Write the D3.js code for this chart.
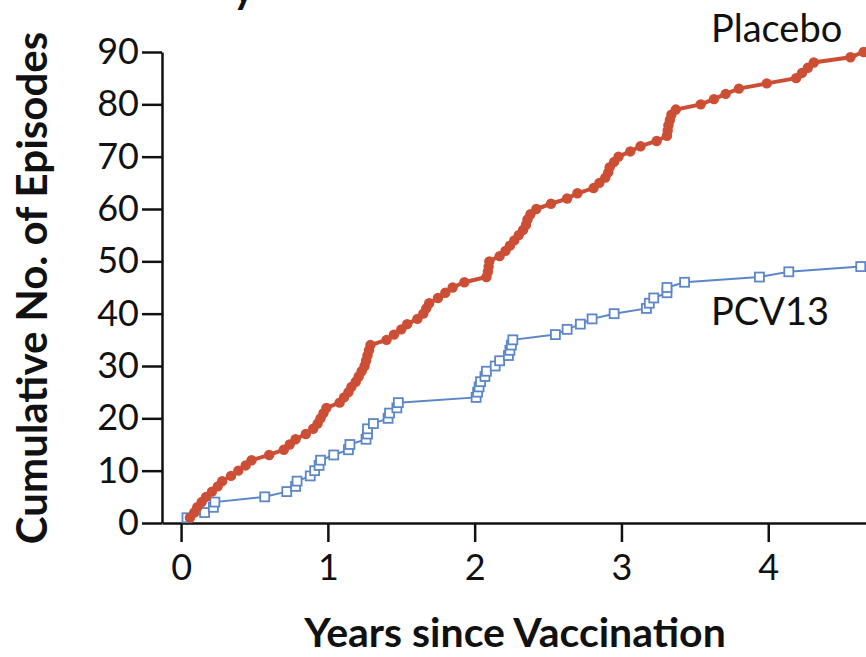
<!DOCTYPE html>
<html>
<head>
<meta charset="utf-8">
<script src="https://cdn.jsdelivr.net/npm/d3@7"></script>
<style>
  html, body { margin: 0; padding: 0; background: #fff; }
  svg { display: block; }
  text { font-family: Lato, "Open Sans", sans-serif; fill: #111; }
</style>
</head>
<body>
<svg id="chart" width="866" height="657"></svg>
<script>
// Years since vaccination for each cumulative episode (Placebo), count 1..90
const placeboYears = [
  0.06,0.09,0.11,0.14,0.17,0.21,0.25,0.28,0.34,0.39,
  0.44,0.48,0.60,0.70,0.74,0.78,0.85,0.90,0.93,0.95,
  0.97,0.99,1.08,1.11,1.14,1.16,1.19,1.21,1.23,1.25,
  1.26,1.27,1.28,1.29,1.40,1.45,1.50,1.54,1.61,1.65,
  1.67,1.69,1.75,1.80,1.85,1.93,2.08,2.09,2.095,2.10,
  2.17,2.21,2.24,2.27,2.30,2.33,2.35,2.36,2.38,2.42,
  2.52,2.63,2.70,2.81,2.85,2.89,2.91,2.92,2.95,2.98,
  3.06,3.13,3.24,3.31,3.315,3.32,3.33,3.34,3.37,3.54,
  3.63,3.71,3.80,3.99,4.19,4.23,4.27,4.31,4.56,4.65
];
// Years since vaccination for each cumulative episode (PCV13), count 1..49
const pcv13Years = [
  0.04,0.16,0.22,0.23,0.57,0.72,0.78,0.79,0.88,0.91,
  0.94,0.95,1.04,1.14,1.15,1.26,1.27,1.27,1.31,1.41,
  1.42,1.47,1.48,2.01,2.02,2.03,2.04,2.07,2.08,2.14,
  2.17,2.23,2.24,2.25,2.26,2.55,2.63,2.72,2.80,2.95,
  3.17,3.19,3.22,3.31,3.31,3.43,3.94,4.14,4.63
];
const xTicks = [0, 1, 2, 3, 4];
const yTicks = [0, 10, 20, 30, 40, 50, 60, 70, 80, 90];
const seriesLabels = ["Placebo", "PCV13"];
const xTitle = "Years since Vaccination";
const yTitle = "Cumulative No. of Episodes";
const panelTitle = "y";

const placebo = placeboYears.map((t, i) => ({ x: t, y: i + 1 }));
const pcv13 = pcv13Years.map((t, i) => ({ x: t, y: i + 1 }));

const svg = d3.select("#chart");
const red = "#cc4f35", blue = "#5b87c8";

const x = d3.scaleLinear().domain([-0.13, 4.7]).range([162, 871]);
const y = d3.scaleLinear().domain([0, 90]).range([523, 52]);

// partial panel title (cut off at top, as in the source figure)
svg.append("text").attr("x", 233).attr("y", 3)
  .attr("font-weight", 700).attr("font-size", 40).text(panelTitle);

// X axis
const xAxis = svg.append("g").attr("transform", "translate(0,523)")
  .call(d3.axisBottom(x).tickValues(xTicks).tickSize(19).tickSizeOuter(0).tickPadding(12).tickFormat(d3.format("d")));
xAxis.select(".domain").attr("stroke", "#111").attr("stroke-width", 2.5);
xAxis.selectAll(".tick line").attr("stroke", "#111").attr("stroke-width", 2.5);
xAxis.selectAll(".tick text").attr("font-size", 36).attr("fill", "#111")
  .style("font-family", "Lato, sans-serif");

// Y axis
const yAxis = svg.append("g").attr("transform", "translate(162,0)")
  .call(d3.axisLeft(y).tickValues(yTicks).tickSize(20).tickSizeOuter(0).tickPadding(3).tickFormat(d3.format("d")));
yAxis.select(".domain").attr("stroke", "#111").attr("stroke-width", 2.5);
yAxis.selectAll(".tick line").attr("stroke", "#111").attr("stroke-width", 2.5);
yAxis.selectAll(".tick text").attr("font-size", 36).attr("fill", "#111")
  .style("font-family", "Lato, sans-serif");

const line = d3.line().x(d => x(d.x)).y(d => y(d.y));

// PCV13 series
svg.append("path").datum(pcv13).attr("d", line)
  .attr("fill", "none").attr("stroke", blue).attr("stroke-width", 2);
// extend last value to right edge
svg.append("path").datum([pcv13[pcv13.length - 1], { x: 4.7, y: pcv13.length }]).attr("d", line)
  .attr("fill", "none").attr("stroke", blue).attr("stroke-width", 2);
svg.append("g").selectAll("rect").data(pcv13).join("rect")
  .attr("x", d => x(d.x) - 4.5).attr("y", d => y(d.y) - 4.5)
  .attr("width", 9).attr("height", 9)
  .attr("fill", "#fff").attr("stroke", blue).attr("stroke-width", 1.8);

// Placebo series
svg.append("path").datum(placebo).attr("d", line)
  .attr("fill", "none").attr("stroke", red).attr("stroke-width", 4);
svg.append("g").selectAll("circle").data(placebo).join("circle")
  .attr("cx", d => x(d.x)).attr("cy", d => y(d.y)).attr("r", 5.2)
  .attr("fill", red);

// Series labels
svg.append("text").attr("x", 711).attr("y", 42).attr("font-size", 38).text(seriesLabels[0]);
svg.append("text").attr("x", 711).attr("y", 325).attr("font-size", 38).text(seriesLabels[1]);

// Axis titles
svg.append("text").attr("x", 515).attr("y", 647).attr("text-anchor", "middle")
  .attr("font-size", 41).attr("font-weight", 700).text(xTitle);
svg.append("text").attr("transform", "translate(47,288) rotate(-90)").attr("text-anchor", "middle")
  .attr("font-size", 42).attr("font-weight", 700).text(yTitle);
</script>
</body>
</html>
